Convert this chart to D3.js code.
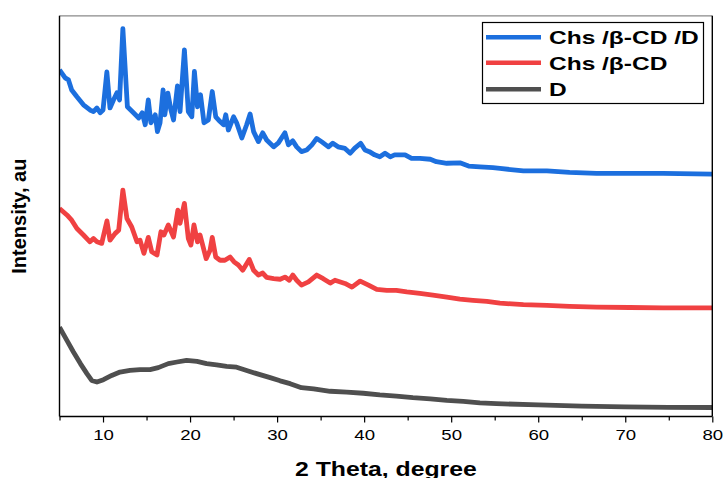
<!DOCTYPE html>
<html>
<head>
<meta charset="utf-8">
<script src="https://cdn.jsdelivr.net/npm/d3@7"></script>
<style>
  html, body { margin: 0; padding: 0; background: #fff; }
  svg { display: block; }
  text { font-family: "Liberation Sans", Arial, Helvetica, sans-serif; }
</style>
</head>
<body>
<svg id="chart" width="723" height="478"></svg>
<script>
// ---------------- data ----------------
const seriesNames = ["Chs /β-CD /D", "Chs /β-CD", "D"];
const seriesColors = ["#1c6fde", "#f04142", "#4f4f4f"];

const thetaBlue = [5.0,5.65,6.03,6.4,7.0,7.75,8.5,8.9,9.3,9.67,10.0,10.44,10.8,11.2,11.6,11.9,12.28,12.8,13.5,14.1,14.5,14.85,15.2,15.5,16.0,16.25,16.55,16.9,17.1,17.45,17.8,18.1,18.55,18.85,19.35,19.8,20.2,20.5,20.85,21.2,21.6,22.1,22.55,22.95,23.45,23.85,24.1,24.4,25.0,25.35,25.95,26.5,26.9,27.3,27.85,28.35,28.8,29.6,30.15,30.9,31.3,31.8,32.25,32.8,33.4,34.0,34.55,35.1,35.9,36.4,37.0,37.8,38.4,38.9,39.6,40.1,40.6,41.2,41.8,42.4,43.0,43.5,44.7,45.45,46.4,47.6,48.3,49.5,51.0,52.0,53.3,54.8,55.6,58.3,61.0,63.6,66.7,69.75,74.35,80.0];
const intensityBlue = [86.5,84.5,84.0,81.5,79.8,77.8,76.5,76.1,77.0,75.8,76.5,86.0,77.0,79.0,80.8,79.0,96.8,77.3,75.8,74.5,75.8,72.8,79.0,73.3,75.3,71.1,73.3,81.5,75.3,80.7,76.5,74.0,82.5,76.1,91.5,76.1,74.8,86.1,77.3,80.3,73.3,74.0,81.1,74.8,73.6,72.8,75.3,71.5,74.8,73.3,69.5,72.8,75.5,71.1,68.6,70.8,69.0,67.3,68.3,70.8,67.8,68.8,67.3,66.1,66.5,67.8,69.4,68.6,67.3,68.2,67.3,66.9,65.7,66.9,68.2,66.5,66.1,65.3,64.8,65.7,64.8,65.3,65.3,64.4,64.4,64.2,63.6,63.2,63.3,62.5,62.3,62.1,61.9,61.3,61.3,60.9,60.7,60.7,60.7,60.5];

const thetaRed = [5.0,5.85,6.4,7.0,7.75,8.5,8.9,9.3,9.85,10.45,10.8,11.4,11.8,12.28,12.75,13.3,13.9,14.25,14.7,15.2,15.6,16.2,16.65,17.0,17.5,18.1,18.6,18.85,19.35,19.8,20.1,20.45,20.85,21.15,21.85,22.3,22.55,22.95,23.45,24.0,24.6,25.05,25.55,26.05,26.8,27.3,27.85,28.35,28.8,29.6,30.35,30.9,31.4,31.8,32.25,32.8,33.6,34.55,35.3,36.1,36.65,37.8,38.6,39.55,40.5,41.45,42.6,43.7,44.9,46.4,47.9,49.5,51.0,52.5,54.1,55.6,58.3,61.0,63.6,66.7,70.5,74.35,80.0];
const intensityRed = [51.9,50.3,49.0,46.9,45.3,43.6,44.4,43.6,43.2,48.8,44.0,45.7,46.5,56.5,49.4,47.3,43.6,44.0,40.7,44.7,41.1,40.3,46.1,45.3,47.8,44.8,51.5,48.2,53.2,44.4,42.8,47.8,43.6,45.3,39.4,41.5,44.7,39.8,39.0,39.0,39.8,38.6,37.8,36.5,39.2,36.5,35.3,35.8,34.7,34.4,34.25,34.8,34.0,35.3,34.0,32.8,33.6,35.3,34.4,33.3,34.0,33.2,32.3,33.8,32.8,31.7,31.5,31.5,31.1,30.7,30.3,29.8,29.3,29.0,28.75,28.3,27.9,27.75,27.5,27.3,27.2,27.1,27.1];

const thetaGray = [5.0,5.85,6.6,7.4,8.15,8.7,9.3,10.05,11.0,11.95,13.1,14.25,15.4,16.35,17.5,18.5,19.6,20.8,21.9,23.05,24.2,25.35,26.5,27.65,29.2,30.35,31.5,32.8,34.2,36.1,38.0,39.9,41.8,43.7,45.6,47.6,49.5,51.4,53.3,55.2,60.0,65.0,70.0,75.0,80.0];
const intensityGray = [22.3,19.0,16.1,13.2,10.7,9.0,8.6,9.2,10.25,11.1,11.5,11.7,11.7,12.2,13.2,13.6,14.0,13.75,13.2,12.9,12.5,12.3,11.5,10.7,9.7,8.9,8.2,7.2,6.9,6.3,6.1,5.8,5.4,5.1,4.7,4.4,4.0,3.8,3.4,3.2,2.9,2.6,2.4,2.3,2.25];

const xMajorTicks = [10,20,30,40,50,60,70,80];
const xMinorTicks = [5,15,25,35,45,55,65,75];
const xDomain = [5, 80];
const yDomain = [0, 100];

// ---------------- layout ----------------
const pLeft = 59.5, pRight = 712.3, pTop = 15.8, pBottom = 416.5;
const svg = d3.select("#chart");
const x = d3.scaleLinear().domain(xDomain).range([pLeft, pRight]);
const y = d3.scaleLinear().domain(yDomain).range([pBottom, pTop]);

const series = [
  {name: seriesNames[0], color: seriesColors[0], t: thetaBlue, v: intensityBlue},
  {name: seriesNames[1], color: seriesColors[1], t: thetaRed, v: intensityRed},
  {name: seriesNames[2], color: seriesColors[2], t: thetaGray, v: intensityGray}
];

// lines (draw gray first, blue last)
const line = d3.line().x(d => x(d[0])).y(d => y(d[1]));
const plot = svg.append("g");
plot.append("clipPath").attr("id", "clip").append("rect")
  .attr("x", pLeft).attr("y", pTop).attr("width", pRight - pLeft).attr("height", pBottom - pTop);
series.slice().reverse().forEach(s => {
  const pts = s.t.map((t, i) => [t, s.v[i]]);
  plot.append("path")
    .attr("d", line(pts))
    .attr("fill", "none")
    .attr("stroke", s.color)
    .attr("stroke-width", 4.8)
    .attr("stroke-linejoin", "round")
    .attr("stroke-linecap", "butt")
    .attr("clip-path", "url(#clip)");
});

// frame
svg.append("line").attr("x1", pLeft).attr("x2", pRight).attr("y1", pTop).attr("y2", pTop)
  .attr("stroke", "#8a8a8a").attr("stroke-width", 1.3);
svg.append("line").attr("x1", pRight).attr("x2", pRight).attr("y1", pTop).attr("y2", pBottom)
  .attr("stroke", "#000").attr("stroke-width", 1.4);
svg.append("line").attr("x1", pLeft).attr("x2", pLeft).attr("y1", pTop).attr("y2", pBottom)
  .attr("stroke", "#000").attr("stroke-width", 1.4);

// x axis
const xAxis = d3.axisBottom(x).tickValues(xMajorTicks).tickSize(6).tickPadding(7)
  .tickFormat(d3.format("d"));
const gx = svg.append("g").attr("transform", `translate(0,${pBottom})`).call(xAxis);
gx.select(".domain").attr("stroke", "#000").attr("stroke-width", 1.4)
  .attr("d", `M${pLeft},0H${pRight}`);
gx.selectAll(".tick line").attr("stroke", "#000").attr("stroke-width", 1.2);
gx.selectAll(".tick text")
  .attr("fill", "#000")
  .style("font-size", "15.5px")
  .style("font-family", "'Liberation Sans', Arial, sans-serif")
  .attr("transform", "scale(1.2,1)");
const xMinor = d3.axisBottom(x).tickValues(xMinorTicks).tickSize(4).tickFormat("");
const gxm = svg.append("g").attr("transform", `translate(0,${pBottom})`).call(xMinor);
gxm.select(".domain").remove();
gxm.selectAll(".tick line").attr("stroke", "#000").attr("stroke-width", 1.2);

// axis titles
svg.append("text")
  .attr("transform", `translate(${(pLeft + pRight) / 2},475.5) scale(1.18,1)`)
  .attr("text-anchor", "middle")
  .style("font-size", "21px").style("font-weight", "bold")
  .text("2 Theta, degree");

svg.append("text")
  .attr("transform", `translate(26,${(pTop + pBottom) / 2}) rotate(-90)`)
  .attr("text-anchor", "middle")
  .style("font-size", "20px").style("font-weight", "bold")
  .text("Intensity, au");

// legend
const lg = svg.append("g");
lg.append("rect").attr("x", 482.5).attr("y", 22.5).attr("width", 221).attr("height", 81)
  .attr("fill", "#fff").attr("stroke", "#000").attr("stroke-width", 1.2);
const legendY = [37.3, 62.7, 89.3];
series.forEach((s, i) => {
  lg.append("line").attr("x1", 486).attr("x2", 541)
    .attr("y1", legendY[i]).attr("y2", legendY[i])
    .attr("stroke", s.color).attr("stroke-width", 4.6);
  lg.append("text")
    .attr("transform", `translate(549,${legendY[i] + 7}) scale(1.29,1)`)
    .style("font-size", "19px").style("font-weight", "bold")
    .text(s.name);
});
</script>
</body>
</html>
